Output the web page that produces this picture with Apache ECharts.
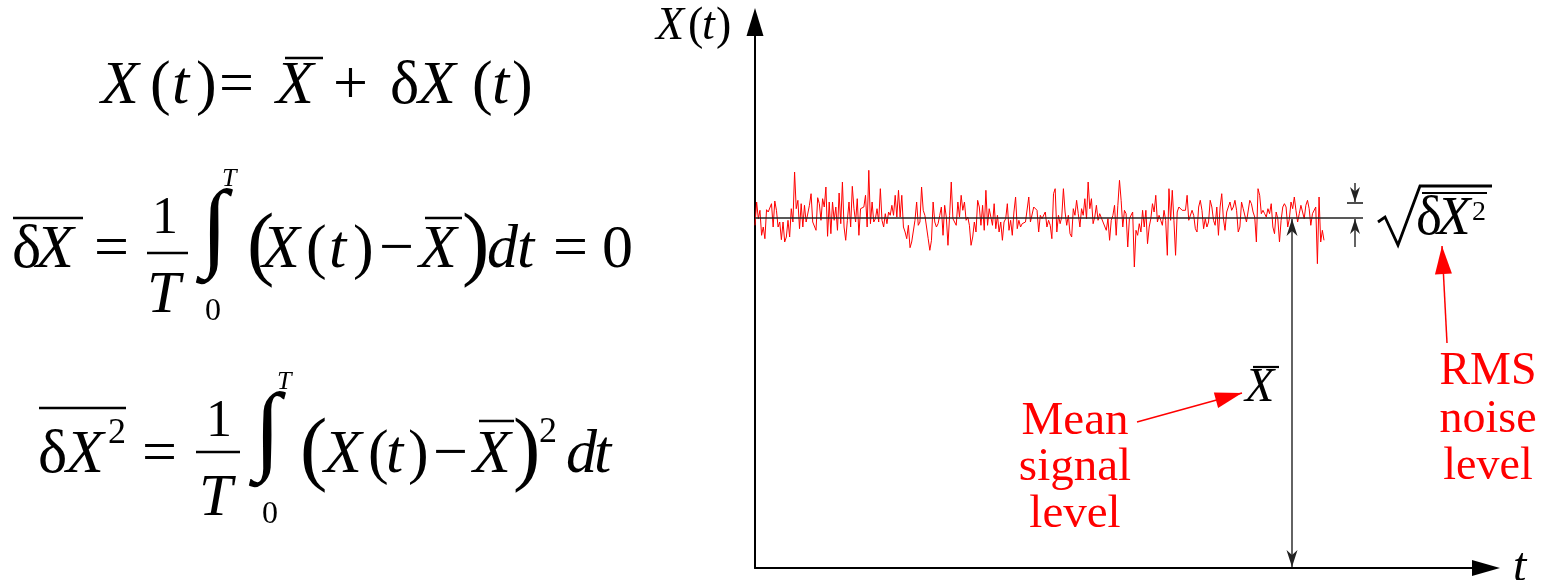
<!DOCTYPE html>
<html>
<head>
<meta charset="utf-8">
<script src="https://cdn.jsdelivr.net/npm/echarts@6/dist/echarts.min.js"></script>
<style>
  html, body { margin: 0; padding: 0; background: #fff; }
  #main { width: 1554px; height: 580px; }
</style>
</head>
<body>
<div id="main"></div>
<script>
// noise deviation from the mean (pixels above the mean line)
const noise = [
  -7.3,16.0,-0.7,7.7,-17.3,-9.0,-20.7,8.3,6.0,7.7,14.3,-9.0,17.0,7.7,-9.0,-4.0,-21.7,-4.0,-24.0,-19.0,
  -2.3,-19.0,9.3,-4.0,46.0,9.3,17.7,-10.7,14.3,-9.0,12.7,-4.0,-2.3,12.7,24.3,-4.0,-5.7,-12.3,20.3,14.3,
  -2.3,19.3,11.0,31.0,-18.3,16.0,-15.7,16.0,-2.3,11.0,-12.3,25.0,-5.7,36.0,-9.0,-22.3,-2.3,16.0,-9.0,31.7,
  9.3,-4.0,19.3,-17.3,9.3,8.3,11.0,22.7,-9.0,47.7,-5.7,16.0,-4.0,-0.7,9.3,-4.0,29.3,-2.3,-9.0,4.3,
  -5.7,6.0,2.7,12.7,2.7,22.7,1.0,27.7,1.0,22.7,-9.0,-14.0,-20.7,-7.3,-29.7,-24.0,-22.3,-2.3,16.0,-7.3,
  -4.0,31.0,7.7,2.7,3.7,-20.7,-32.3,-22.3,16.0,-4.0,-9.0,
  -5.7,2.7,11.0,-17.3,12.7,1.0,-27.3,2.7,36.0,-0.7,-2.3,-7.3,16.0,1.0,22.7,7.7,16.0,-2.3,1.0,-7.3,
  -27.3,-19.0,-4.0,-14.0,17.7,11.0,-7.3,12.7,-12.3,27.7,-7.3,9.3,7.7,-7.3,14.3,-10.7,2.7,-14.0,-4.0,-22.3,
  -4.0,-0.7,14.3,-12.3,-2.3,-17.3,6.0,21.0,-10.7,-2.3,-9.0,-5.7,-7.3,-4.0,-5.7,21.0,-4.0,-2.3,11.0,11.0,
  7.7,-14.0,2.7,-0.7,-2.3,6.0,-9.0,-2.3,-7.3,-20.7,24.3,29.3,-14.0,2.7,-5.7,1.0,29.3,6.0,-7.3,2.7,
  -15.7,-19.0,9.3,2.7,17.7,4.3,-9.0,9.3,2.7,19.3,-0.7,36.0,9.3,19.3,-5.7,1.0,12.7,-2.3,4.3,2.7,
  -4.0,-2.3,-12.3,-0.7,-22.3,-2.3,2.7,12.7,-17.3,12.7,37.7,17.7,-9.0,7.7,4.3,-29.0,-0.7,1.0,6.0,-49.0,
  -12.3,-17.3,-5.7,-14.0,7.7,-9.0,7.7,-25.7,-9.0,-0.7,14.3,6.0,22.7,-4.0,2.7,-2.3,-7.3,7.7,-2.3,-37.3,
  29.3,-2.3,27.7,-2.3,-37.3,6.0,11.0,9.3,7.7,6.0,7.7,22.7,-2.3,-0.7,7.7,2.7,-10.7,-14.0,11.0,17.7,
  7.7,-10.7,-0.7,-9.0,-4.0,17.7,11.0,-2.3,-7.3,11.0,-17.3,11.0,24.3,-0.7,-12.3,6.0,7.7,16.0,7.7,11.0,
  17.7,7.7,-14.0,-9.0,16.0,9.3,7.7,-4.0,-2.3,17.7,14.3,6.0,1.0,-24.0,29.3,22.7,4.3,7.7,4.3,1.0,
  9.3,4.3,14.3,-9.0,-15.7,6.0,-0.7,-24.0,-2.3,11.0,14.3,11.0,-9.0,-0.7,16.0,9.3,21.0,7.7,-4.0,4.3,
  12.7,14.3,-0.7,12.7,17.7,9.3,-7.3,4.3,2.7,11.0,-45.7,21.0,-24.0,-12.3,-22.3
];
const meanLevel = 350;      // X bar
const rmsLevel = 15;        // sqrt(mean square deviation)
const recordLength = 569;   // time span of the trace
const meanLineEnd = 608;    // where the drawn mean line stops
const meanArrowAt = 537;    // time of the vertical mean arrow
const rmsBracketAt = 600;   // time of the rms bracket
const tMax = 731;
const xMax = 546;

const times = noise.map((v, i) => i * recordLength / (noise.length - 1));

const chart = echarts.init(document.getElementById('main'));

const FONT = '"Liberation Serif", "Times New Roman", "DejaVu Serif", serif';

function txt(s, x, base, size, italic, color, weight) {
  return {
    type: 'text', x: x, y: base - 0.34 * size, silent: true,
    style: {
      text: s, font: (italic ? 'italic ' : '') + (weight ? weight + ' ' : '') + size + 'px ' + FONT,
      fill: color || '#000',
      textAlign: 'left', align: 'left', textVerticalAlign: 'middle', verticalAlign: 'middle'
    }
  };
}
function ctxt(s, x, base, size, color) {
  const el = txt(s, x, base, size, false, color);
  el.style.textAlign = el.style.align = 'center';
  return el;
}
function bar(x1, x2, y, w) {
  return { type: 'line', silent: true, shape: { x1: x1, y1: y, x2: x2, y2: y }, style: { stroke: '#000', lineWidth: w || 2.5 } };
}
function head(tip, from, len, wid, color, notch) {
  const dx = tip[0] - from[0], dy = tip[1] - from[1];
  const d = Math.sqrt(dx * dx + dy * dy);
  const ux = dx / d, uy = dy / d, px = -uy, py = ux;
  const bx = tip[0] - ux * len, by = tip[1] - uy * len;
  const pts = [tip, [bx + px * wid / 2, by + py * wid / 2]];
  if (notch) pts.push([tip[0] - ux * len * 0.7, tip[1] - uy * len * 0.7]);
  pts.push([bx - px * wid / 2, by - py * wid / 2]);
  return { type: 'polygon', silent: true, shape: { points: pts }, style: { fill: color } };
}
function arrow(p1, p2, color, lw, len, wid, notch, both) {
  const els = [{ type: 'line', silent: true, shape: { x1: p1[0], y1: p1[1], x2: p2[0], y2: p2[1] }, style: { stroke: color, lineWidth: lw } }];
  els.push(head(p2, p1, len, wid, color, notch));
  if (both) els.push(head(p1, p2, len, wid, color, notch));
  return els;
}

chart.setOption({
  animation: false,
  backgroundColor: '#fff',
  grid: { left: 755, right: 68, top: 22, bottom: 12, outerBoundsMode: 'none' },
  xAxis: {
    type: 'value', min: 0, max: tMax, position: 'bottom',
    axisLine: { onZero: false, symbol: ['none', 'triangle'], symbolSize: [16, 28], lineStyle: { color: '#000', width: 2 } },
    axisTick: { show: false }, axisLabel: { show: false }, splitLine: { show: false }
  },
  yAxis: {
    type: 'value', min: 0, max: xMax, position: 'left',
    axisLine: { show: true, onZero: false, symbol: ['none', 'triangle'], symbolSize: [17, 28], lineStyle: { color: '#000', width: 2 } },
    axisTick: { show: false }, axisLabel: { show: false }, splitLine: { show: false }
  },
  series: [
    {
      type: 'line', symbol: 'none', silent: true,
      data: times.map((t, i) => [t, meanLevel + noise[i]]),
      lineStyle: { color: '#ff0000', width: 1 }
    },
    {
      type: 'line', symbol: 'none', silent: true,
      data: [[0, meanLevel], [meanLineEnd, meanLevel]],
      lineStyle: { color: '#222', width: 1.5 }
    }
  ]
});

const px = p => chart.convertToPixel({ gridIndex: 0 }, p);
const g = [];

// vertical mean arrow
const mTop = px([meanArrowAt, meanLevel]);
const mBot = px([meanArrowAt, 0]);
g.push(...arrow([mTop[0], mTop[1] + 1], [mBot[0], mBot[1] - 1], '#222', 1.4, 17, 11, true, true));

// rms bracket
const rTop = px([rmsBracketAt, meanLevel + rmsLevel]);
const rMid = px([rmsBracketAt, meanLevel]);
g.push(bar(rTop[0] - 8, rTop[0] + 8, rTop[1], 1.4));
g.push(...arrow([rTop[0], rTop[1] - 20], [rTop[0], rTop[1] - 1], '#222', 1.4, 15, 10, true, false));
g.push(...arrow([rMid[0], rMid[1] + 29], [rMid[0], rMid[1] + 1], '#222', 1.4, 15, 10, true, false));

// sqrt(dX^2) label
g.push({ type: 'polyline', silent: true, shape: { points: [[1378, 222], [1385, 217], [1398, 245], [1420, 186], [1492, 186]] }, style: { stroke: '#000', lineWidth: 2.8, fill: null } });
g.push(bar(1422, 1487, 193, 2));
g.push(txt('δ', 1416, 238, 55, false));
g.push(txt('X', 1437, 238, 55, true));
g.push(txt('2', 1472, 222, 28, false));

// axis labels
g.push(txt('X', 656, 43, 46, true), txt('(', 688, 43, 46, false), txt('t', 702, 43, 46, true), txt(')', 716, 43, 46, false));
g.push(txt('t', 1513, 585, 48, true));

// X bar label near the arrow
g.push(txt('X', 1245, 405, 48, true), bar(1253, 1279, 367, 2.2));

// red annotations
g.push(ctxt('Mean', 1075, 438, 47, '#ff0000'), ctxt('signal', 1075, 484, 47, '#ff0000'), ctxt('level', 1075, 531, 47, '#ff0000'));
g.push(...arrow([1137, 422], [1242, 393], '#ff0000', 1.5, 27, 16, false, false));
g.push(ctxt('RMS', 1488, 388, 46, '#ff0000'), ctxt('noise', 1488, 436, 46, '#ff0000'), ctxt('level', 1488, 483, 46, '#ff0000'));
g.push(...arrow([1447, 343], [1442, 246], '#ff0000', 1.5, 28, 17, false, false));

// equation 1
const s = 62;
const b1 = 108;
g.push(txt('X', 101, b1, s, true), txt('(', 150, b1, s), txt('t', 172, b1, s, true), txt(')', 196, b1, s),
  txt('=', 219, b1, s), txt('X', 276, b1, s, true), bar(285, 323, 58),
  txt('+', 333, b1, s), txt('δ', 390, b1, s), txt('X', 418, b1, s, true),
  txt('(', 472, b1, s), txt('t', 492, b1, s, true), txt(')', 512, b1, s));

// equation 2
const b2 = 272;
g.push(txt('δ', 12, b2, s), txt('X', 36, b2, s, true), bar(13, 83, 218));
g.push(txt('=', 94, b2, s));
g.push(txt('1', 152, 237, 52), bar(147, 188, 253), txt('T', 147, 317, 60, true));
g.push(txt('∫', 201, 266, 98, false, '#000', 'bold'), txt('T', 222, 188, 26, true), txt('0', 205, 322, 32));
g.push(txt('(', 247, b2 + 4, 82), txt('X', 262, b2, s, true), txt('(', 306, b2, s), txt('t', 329, b2, s, true), txt(')', 353, b2, s),
  txt('−', 379, b2, s), txt('X', 419, b2, s, true), bar(425, 462, 218), txt(')', 462, b2 + 4, 82),
  txt('d', 487, b2, s, true), txt('t', 517, b2, s, true), txt('=', 553, b2, s), txt('0', 602, b2, s));

// equation 3
const b3 = 477;
g.push(txt('δ', 38, b3, s), txt('X', 66, b3, s, true), txt('2', 108, 446, 36), bar(39, 126, 408));
g.push(txt('=', 142, b3, s));
g.push(txt('1', 206, 440, 52), bar(196, 240, 452), txt('T', 199, 520, 60, true));
g.push(txt('∫', 254, 469, 98, false, '#000', 'bold'), txt('T', 277, 391, 26, true), txt('0', 262, 525, 32));
g.push(txt('(', 300, b3 + 4, 82), txt('X', 324, b3, s, true), txt('(', 368, b3, s), txt('t', 386, b3, s, true), txt(')', 408, b3, s),
  txt('−', 433, b3, s), txt('X', 473, b3, s, true), bar(479, 514, 421), txt(')', 513, b3 + 4, 82),
  txt('2', 539, 445, 36), txt('d', 566, b3, s, true), txt('t', 594, b3, s, true));

chart.setOption({ graphic: { elements: g } });
</script>
</body>
</html>
